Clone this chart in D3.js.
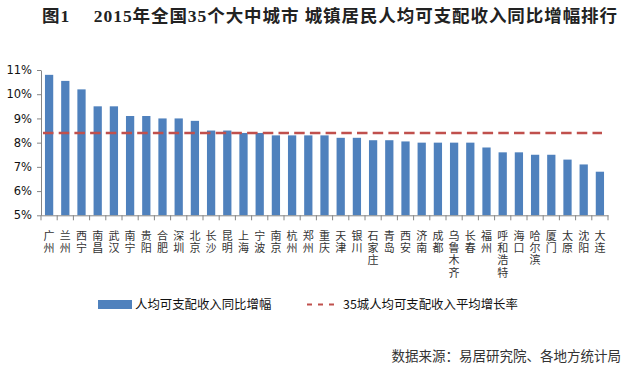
<!DOCTYPE html>
<meta charset="utf-8">
<style>
body { margin: 0; background: #fff; }
svg text { font-family: "Noto Sans CJK SC", sans-serif; }
.axis path, .axis line { stroke: #868686; }
</style>
<svg width="629" height="375"></svg>
<script src="https://d3js.org/d3.v7.min.js"></script>
<script>

var cities = ["广州","兰州","西宁","南昌","武汉","南宁","贵阳","合肥","深圳","北京",
  "长沙","昆明","上海","宁波","南京","杭州","郑州","重庆","天津","银川",
  "石家庄","青岛","西安","济南","成都","乌鲁木齐","长春","福州","呼和浩特","海口",
  "哈尔滨","厦门","太原","沈阳","大连"];
var growth = [10.8,10.55,10.2,9.5,9.5,9.1,9.1,9.0,9.0,8.9,
  8.5,8.5,8.4,8.4,8.3,8.3,8.3,8.3,8.2,8.2,
  8.1,8.1,8.05,8.0,8.0,8.0,8.0,7.8,7.6,7.6,
  7.5,7.5,7.3,7.1,6.8];
var avgRate = 8.4;
var yTicks = [5,6,7,8,9,10,11];

var svg = d3.select("svg");

var x = d3.scaleBand().domain(cities).range([41, 608]).paddingInner(0.49).paddingOuter(0.245);
var xCat = d3.scaleBand().domain(cities).range([41, 608]);
var y = d3.scaleLinear().domain([5, 11]).range([215.3, 70]);

// title
svg.append("text")
    .attr("x", 42).attr("y", 22)
    .style("font-family", "'Liberation Serif', 'Noto Sans CJK SC', serif")
    .style("font-size", "17.5px").style("font-weight", "bold")
    .attr("fill", "#222")
    .attr("textLength", 575)
    .text("图1\u3000 2015年全国35个大中城市 城镇居民人均可支配收入同比增幅排行");

// bars
svg.append("g").selectAll("rect")
    .data(growth)
    .enter().append("rect")
      .attr("x", function(d, i) { return x(cities[i]); })
      .attr("width", x.bandwidth())
      .attr("y", function(d) { return y(d); })
      .attr("height", function(d) { return y(5) - y(d); })
      .attr("fill", "#4F81BD");

// y axis
var yAxis = svg.append("g")
    .attr("class", "axis")
    .attr("transform", "translate(41,0)")
    .call(d3.axisLeft(y).tickValues(yTicks).tickSize(4).tickSizeOuter(0)
      .tickFormat(function(d) { return d + "%"; }));
yAxis.selectAll("text")
    .style("font-family", "'DejaVu Sans', sans-serif")
    .style("font-size", "11.5px").attr("fill", "#111").attr("x", -9);

// x axis
var xAxis = svg.append("g")
    .attr("class", "axis")
    .attr("transform", "translate(0," + y(5) + ")")
    .call(d3.axisBottom(xCat).tickSize(0).tickFormat(""));
xAxis.selectAll(".sep")
    .data(cities.concat(["end"]))
    .enter().append("line")
      .attr("x1", function(d, i) { return i < cities.length ? xCat(d) : xCat.range()[1]; })
      .attr("x2", function(d, i) { return i < cities.length ? xCat(d) : xCat.range()[1]; })
      .attr("y1", 0).attr("y2", 5)
      .attr("stroke", "#868686");

// vertical city labels, one character per line
var labels = svg.append("g").selectAll("text")
    .data(cities)
    .enter().append("text")
      .attr("x", function(d) { return xCat(d) + xCat.bandwidth() / 2; })
      .attr("y", 240)
      .attr("text-anchor", "middle")
      .style("font-size", "11px")
      .attr("fill", "#333");
labels.each(function(d) {
  var t = d3.select(this);
  d.split("").forEach(function(c, j) {
    t.append("tspan").attr("x", t.attr("x")).attr("dy", j === 0 ? 0 : 12.2).text(c);
  });
});

// average line
var xLine = d3.scalePoint().domain(cities).range([43, 602]);
svg.append("path")
    .datum(cities)
    .attr("d", d3.line().x(function(d) { return xLine(d); }).y(function() { return y(avgRate); }))
    .attr("fill", "none")
    .attr("stroke", "#C0504D")
    .attr("stroke-width", 2.6)
    .attr("stroke-dasharray", "10.5,5.2");

// legend
var lg = svg.append("g");
lg.append("rect").attr("x", 98).attr("y", 300).attr("width", 34).attr("height", 9).attr("fill", "#4F81BD");
lg.append("text").attr("x", 135).attr("y", 309).style("font-size", "12.4px").attr("fill", "#111")
    .text("人均可支配收入同比增幅");
lg.append("line").attr("x1", 307).attr("x2", 340).attr("y1", 304.5).attr("y2", 304.5)
    .attr("stroke", "#C0504D").attr("stroke-width", 2.2).attr("stroke-dasharray", "5,6");
lg.append("text").attr("x", 343).attr("y", 309).style("font-size", "12.4px").attr("fill", "#111")
    .text("35城人均可支配收入平均增长率");

// source
svg.append("text")
    .attr("x", 621).attr("y", 361)
    .attr("text-anchor", "end")
    .style("font-size", "13.5px")
    .attr("fill", "#333")
    .text("数据来源：易居研究院、各地方统计局");

</script>
